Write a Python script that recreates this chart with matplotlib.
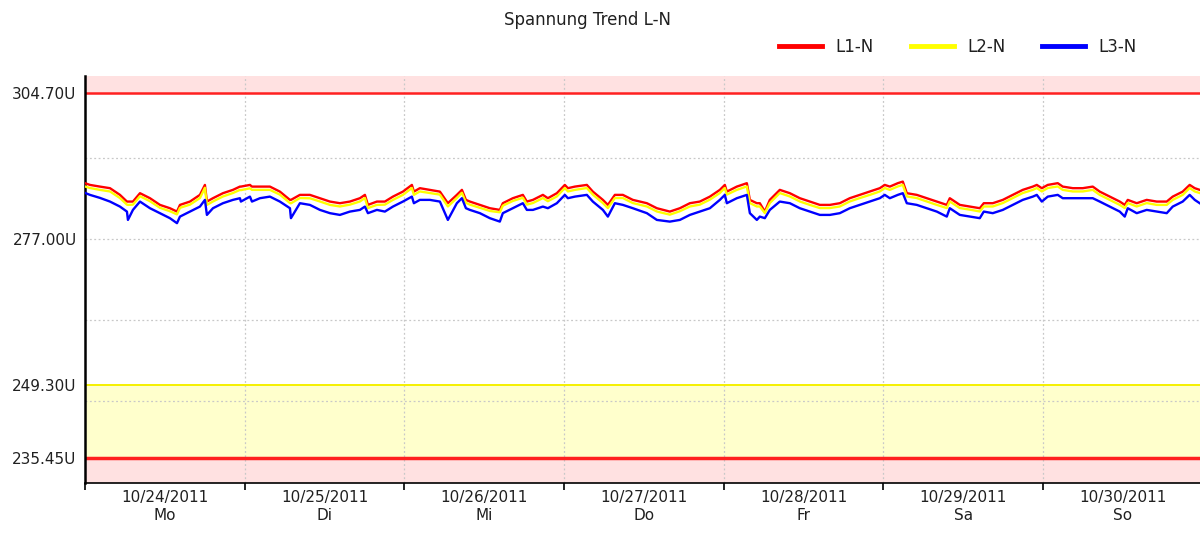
import pandas as pd
import matplotlib
matplotlib.use("Agg")
import matplotlib.pyplot as plt
import matplotlib.dates as mdates

# Stunden ab 24.10.2011 00:00
stunden = [
    0.0, 0.75, 2.25, 3.76, 5.26, 6.31, 6.46, 7.21, 8.27, 9.77,
    11.27, 12.77, 13.83, 14.28, 15.78, 17.28, 18.03, 18.33, 19.24, 20.74,
    22.24, 23.29, 23.44, 24.80, 25.10, 26.30, 27.80, 29.30, 30.81, 30.96,
    32.31, 33.81, 35.32, 36.82, 38.32, 39.82, 41.33, 42.08, 42.53, 43.88,
    45.08, 46.29, 47.79, 49.14, 49.44, 50.34, 51.85, 53.35, 54.55, 55.90,
    56.66, 57.26, 57.86, 59.36, 60.86, 62.36, 62.81, 64.32, 65.82, 66.42,
    67.33, 68.83, 69.58, 70.93, 72.13, 72.59, 73.64, 75.44, 76.34, 77.85,
    78.60, 79.65, 80.85, 82.35, 84.46, 85.96, 87.91, 89.42, 90.92, 92.42,
    93.93, 95.43, 96.18, 96.48, 97.98, 99.49, 99.94, 100.99, 101.44, 102.19,
    102.94, 104.44, 105.95, 107.45, 108.95, 110.46, 111.96, 113.46, 114.96, 116.47,
    117.97, 119.47, 120.22, 120.98, 122.18, 122.93, 123.53, 125.03, 126.54, 128.04,
    129.54, 129.99, 131.50, 133.00, 134.50, 135.10, 136.45, 137.96, 139.46, 140.96,
    142.47, 143.07, 143.82, 144.72, 146.22, 146.97, 148.48, 149.98, 151.48, 152.53,
    154.04, 155.54, 156.29, 156.74, 158.09, 159.59, 161.10, 162.60, 163.50, 165.00,
    166.05, 166.81, 167.56,
]

l1 = [
    287.57, 287.24, 286.92, 286.62, 285.35, 284.08, 284.08, 284.08, 285.67, 284.72,
    283.45, 282.82, 282.18, 283.45, 284.08, 285.35, 287.24, 284.08, 284.72, 285.67,
    286.30, 286.92, 286.92, 287.24, 286.92, 286.92, 286.92, 285.97, 284.40, 284.40,
    285.35, 285.35, 284.72, 284.08, 283.77, 284.08, 284.72, 285.35, 283.45, 284.08,
    284.08, 285.02, 285.97, 287.24, 285.97, 286.62, 286.30, 285.97, 283.77, 285.35,
    286.30, 284.40, 284.08, 283.45, 282.82, 282.50, 283.77, 284.72, 285.35, 284.08,
    284.40, 285.35, 284.72, 285.67, 287.24, 286.62, 286.92, 287.24, 285.97, 284.40,
    283.45, 285.35, 285.35, 284.40, 283.77, 282.82, 282.18, 282.82, 283.77, 284.08,
    285.02, 286.30, 287.24, 285.97, 286.92, 287.57, 284.40, 283.77, 283.77, 282.18,
    284.40, 286.30, 285.67, 284.72, 284.08, 283.45, 283.45, 283.77, 284.72, 285.35,
    285.97, 286.62, 287.24, 286.92, 287.57, 287.87, 285.67, 285.35, 284.72, 284.08,
    283.45, 284.72, 283.45, 283.13, 282.82, 283.77, 283.77, 284.40, 285.35, 286.30,
    286.92, 287.24, 286.62, 287.24, 287.57, 286.92, 286.62, 286.62, 286.92, 285.97,
    285.02, 284.08, 283.45, 284.40, 283.77, 284.40, 284.08, 284.08, 285.02, 285.97,
    287.24, 286.62, 286.30,
]

l2 = [
    286.95, 286.65, 286.30, 286.00, 284.75, 283.50, 283.45, 283.50, 285.10, 284.15,
    282.90, 282.25, 281.65, 282.90, 283.50, 284.75, 286.70, 283.45, 284.10, 285.05,
    285.70, 286.30, 286.25, 286.60, 286.30, 286.30, 286.30, 285.40, 283.80, 283.75,
    284.75, 284.70, 284.10, 283.45, 283.15, 283.50, 284.10, 284.75, 282.85, 283.45,
    283.50, 284.40, 285.35, 286.65, 285.35, 286.00, 285.70, 285.40, 283.15, 284.75,
    285.75, 283.85, 283.50, 282.90, 282.30, 282.05, 283.30, 284.20, 284.80, 283.50,
    283.80, 284.75, 284.15, 285.05, 286.65, 286.00, 286.30, 286.65, 285.40, 283.80,
    282.85, 284.75, 284.75, 283.80, 283.15, 282.20, 281.60, 282.25, 283.15, 283.50,
    284.45, 285.70, 286.65, 285.40, 286.30, 286.95, 283.80, 283.15, 283.15, 281.90,
    283.80, 285.70, 285.05, 284.10, 283.45, 282.85, 282.85, 283.15, 284.10, 284.75,
    285.35, 286.00, 286.65, 286.30, 286.95, 287.25, 285.05, 284.75, 284.10, 283.45,
    282.85, 284.10, 282.85, 282.55, 282.20, 283.15, 283.15, 283.80, 284.75, 285.70,
    286.30, 286.65, 286.00, 286.65, 286.95, 286.30, 286.00, 286.00, 286.30, 285.35,
    284.40, 283.45, 282.85, 283.80, 283.15, 283.80, 283.45, 283.45, 284.40, 285.35,
    286.65, 286.00, 285.70,
]

l3 = [
    285.73, 285.35, 284.78, 284.08, 283.13, 282.18, 280.60, 282.50, 284.08, 282.82,
    281.88, 280.93, 279.98, 281.23, 282.18, 283.13, 284.40, 281.55, 282.82, 283.77,
    284.40, 284.72, 284.08, 285.02, 284.08, 284.72, 285.02, 284.08, 282.82, 280.93,
    283.77, 283.45, 282.50, 281.88, 281.55, 282.18, 282.50, 283.13, 281.88, 282.50,
    282.18, 283.13, 284.08, 285.02, 283.77, 284.40, 284.40, 284.08, 280.60, 283.77,
    284.72, 282.82, 282.50, 281.88, 280.93, 280.28, 281.88, 282.82, 283.77, 282.50,
    282.50, 283.13, 282.82, 283.77, 285.35, 284.72, 285.02, 285.35, 284.08, 282.50,
    281.23, 283.77, 283.45, 282.82, 281.88, 280.60, 280.28, 280.60, 281.55, 282.18,
    282.82, 284.40, 285.35, 283.77, 284.72, 285.35, 281.88, 280.60, 281.23, 280.93,
    282.50, 284.08, 283.77, 282.82, 282.18, 281.55, 281.55, 281.88, 282.82, 283.45,
    284.08, 284.72, 285.35, 284.72, 285.35, 285.67, 283.77, 283.45, 282.82, 282.18,
    281.23, 282.82, 281.55, 281.23, 280.93, 282.18, 281.88, 282.50, 283.45, 284.40,
    285.02, 285.35, 284.08, 285.02, 285.35, 284.72, 284.72, 284.72, 284.72, 284.08,
    283.13, 282.18, 281.23, 282.82, 281.88, 282.50, 282.18, 281.88, 283.13, 284.08,
    285.35, 284.40, 283.77,
]

# Grenzwerte und Achsenbeschriftung
grenze_oben = 304.70
grenze_warn = 249.30
grenze_unten = 235.45
y_ticks = [304.70, 277.00, 249.30, 235.45]
y_gitter = [246.3, 261.6, 277.0, 292.3]
tage = ["10/24/2011", "10/25/2011", "10/26/2011", "10/27/2011",
        "10/28/2011", "10/29/2011", "10/30/2011"]
wochentage = ["Mo", "Di", "Mi", "Do", "Fr", "Sa", "So"]

start = pd.Timestamp("2011-10-24")
zeit = start + pd.to_timedelta(stunden, unit="h")
ende = start + pd.Timedelta(hours=167.6)
y_min, y_max = 230.7, 307.9

fig = plt.figure(figsize=(12, 5.34), dpi=100)
ax = fig.add_axes([0.0708, 0.0955, 0.9292, 0.7622])

# Bänder
ax.axhspan(grenze_oben, y_max, color="#ffe1e1", zorder=0)
ax.axhspan(y_min, grenze_unten, color="#ffe1e1", zorder=0)
ax.axhspan(grenze_unten, grenze_warn, color="#ffffcc", zorder=0)
ax.axhline(grenze_oben, color="#ff2020", lw=1.8, zorder=2)
ax.axhline(grenze_warn, color="#f5f000", lw=1.4, zorder=2)
ax.axhline(grenze_unten, color="#ff2020", lw=2.5, zorder=2)

# Gitter
for g in y_gitter:
    ax.axhline(g, color="#c8c8c8", lw=0.9, ls=(0, (1.5, 2)), zorder=1)
for i in range(1, 7):
    ax.axvline(start + pd.Timedelta(days=i), color="#c8c8c8", lw=0.9,
               ls=(0, (1.5, 2)), zorder=1)

ax.plot(zeit, l1, color="#ff0000", lw=1.7, zorder=3)
ax.plot(zeit, l2, color="#ffff00", lw=1.7, zorder=4)
ax.plot(zeit, l3, color="#0000ff", lw=1.7, zorder=5)

ax.set_xlim(start, ende)
ax.set_ylim(y_min, y_max)

ax.set_yticks(y_ticks)
ax.set_yticklabels([f"{v:.2f}U" for v in y_ticks], fontsize=11, color="#202020")
ax.tick_params(axis="y", length=0, pad=6)

ax.xaxis.set_major_locator(mdates.DayLocator())
ax.xaxis.set_major_formatter(plt.NullFormatter())
ax.set_xticks([start + pd.Timedelta(hours=12 + 24 * i) for i in range(7)], minor=True)
ax.set_xticklabels([f"{d}\n{w}" for d, w in zip(tage, wochentage)], minor=True,
                   fontsize=11, color="#202020", linespacing=1.25)
ax.tick_params(axis="x", which="major", length=5, width=1.2, direction="out")
ax.tick_params(axis="x", which="minor", length=0, pad=5)

ax.spines["top"].set_visible(False)
ax.spines["right"].set_visible(False)
ax.spines["left"].set_linewidth(1.8)
ax.spines["bottom"].set_linewidth(1.2)

fig.text(0.49, 0.962, "Spannung Trend L-N", ha="center", va="center",
         fontsize=12, color="#202020")

handles = [plt.Line2D([], [], color=c, lw=3.5) for c in ["#ff0000", "#ffff00", "#0000ff"]]
fig.legend(handles, ["L1-N", "L2-N", "L3-N"], loc="center right",
           bbox_to_anchor=(0.96, 0.912), ncol=3, frameon=False, fontsize=12,
           handlelength=2.6, columnspacing=2.2, handletextpad=0.8, labelcolor="#202020")

fig.savefig("out.png", dpi=100)
